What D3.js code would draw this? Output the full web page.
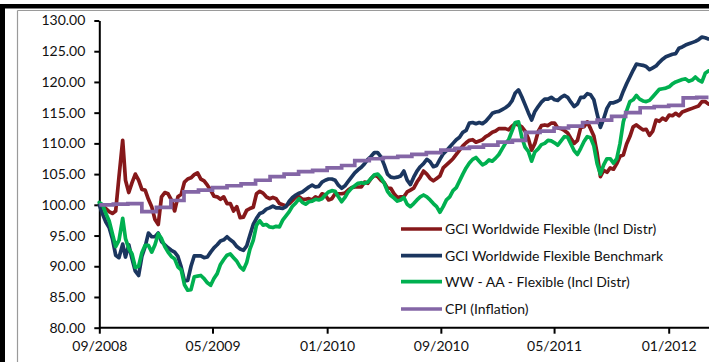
<!DOCTYPE html>
<html><head><meta charset="utf-8">
<script src="https://cdn.jsdelivr.net/npm/d3@7"></script>
<style>
html,body{margin:0;padding:0;background:#fff;}
svg{display:block;font-family:Lato,"Open Sans",sans-serif;}
</style></head>
<body><svg id="c" width="709" height="362"></svg>
<script>
// ---- data (weekly readings) ----
const dates = [
"2008-09-01","2008-09-08","2008-09-15","2008-09-22","2008-09-29","2008-10-06","2008-10-13","2008-10-21","2008-10-27","2008-11-03","2008-11-10","2008-11-17","2008-11-24","2008-12-01","2008-12-08","2008-12-15","2008-12-22","2008-12-29",
"2009-01-05","2009-01-12","2009-01-19","2009-01-26","2009-02-02","2009-02-09","2009-02-16","2009-02-23","2009-03-02","2009-03-09","2009-03-16","2009-03-23","2009-03-30","2009-04-06","2009-04-13","2009-04-20","2009-04-27","2009-05-04","2009-05-11","2009-05-18","2009-05-25","2009-06-01","2009-06-08","2009-06-15","2009-06-22","2009-06-29","2009-07-06","2009-07-13","2009-07-20","2009-07-27","2009-08-03","2009-08-10","2009-08-17","2009-08-24","2009-08-31","2009-09-07","2009-09-14","2009-09-21","2009-09-28","2009-10-05","2009-10-12","2009-10-19","2009-10-26","2009-11-02","2009-11-09","2009-11-16","2009-11-23","2009-11-30","2009-12-07","2009-12-14","2009-12-21","2009-12-28",
"2010-01-04","2010-01-11","2010-01-18","2010-01-25","2010-02-01","2010-02-08","2010-02-15","2010-02-22","2010-03-01","2010-03-08","2010-03-15","2010-03-22","2010-03-29","2010-04-05","2010-04-12","2010-04-19","2010-04-26","2010-05-03","2010-05-10","2010-05-17","2010-05-24","2010-05-31","2010-06-07","2010-06-14","2010-06-21","2010-06-28","2010-07-05","2010-07-12","2010-07-19","2010-07-26","2010-08-02","2010-08-09","2010-08-16","2010-08-23","2010-08-30","2010-09-06","2010-09-13","2010-09-20","2010-09-27","2010-10-04","2010-10-11","2010-10-18","2010-10-25","2010-11-01","2010-11-08","2010-11-15","2010-11-22","2010-11-29","2010-12-06","2010-12-13","2010-12-20","2010-12-27",
"2011-01-03","2011-01-10","2011-01-17","2011-01-24","2011-01-31","2011-02-07","2011-02-14","2011-02-21","2011-02-28","2011-03-07","2011-03-14","2011-03-21","2011-03-28","2011-04-04","2011-04-11","2011-04-18","2011-04-25","2011-05-02","2011-05-09","2011-05-16","2011-05-23","2011-05-30","2011-06-06","2011-06-13","2011-06-20","2011-06-27","2011-07-04","2011-07-11","2011-07-18","2011-07-25","2011-08-01","2011-08-08","2011-08-15","2011-08-22","2011-08-29","2011-09-05","2011-09-12","2011-09-19","2011-09-26","2011-10-03","2011-10-10","2011-10-17","2011-10-24","2011-10-31","2011-11-07","2011-11-14","2011-11-21","2011-11-28","2011-12-05","2011-12-12","2011-12-19","2011-12-26",
"2012-01-02","2012-01-09","2012-01-16","2012-01-23","2012-01-30","2012-02-06","2012-02-13","2012-02-20","2012-02-27","2012-03-05","2012-03-12","2012-03-19","2012-03-26"];

const gciFlexible = [
100.0,99.8,99.4,98.9,98.6,99.0,104.5,110.5,104.0,102.0,103.6,105.0,104.0,102.5,102.4,100.9,99.7,97.6,
96.8,101.3,102.0,101.8,100.8,99.0,101.3,101.7,103.7,104.2,104.4,104.9,105.2,104.2,103.9,103.2,102.4,101.4,101.3,100.9,101.3,100.2,100.2,99.0,99.7,97.9,98.0,99.1,99.4,99.6,101.8,102.2,101.9,101.3,101.0,101.2,101.0,100.2,100.0,99.8,100.2,100.7,101.3,101.3,100.9,100.9,101.0,100.8,101.3,101.0,101.8,101.6,
100.8,101.0,101.8,101.8,101.8,101.9,102.4,102.8,102.9,102.9,102.9,103.7,103.5,104.3,104.8,104.6,104.0,103.6,102.7,102.7,101.8,101.2,101.3,101.3,102.1,102.4,102.7,103.7,104.5,105.5,105.0,104.3,103.9,104.3,104.7,106.0,106.5,107.0,107.5,108.2,108.9,109.6,110.1,110.5,110.6,110.2,110.4,110.6,111.1,111.4,111.8,112.0,
112.4,112.4,112.4,112.2,112.8,113.2,113.0,112.7,112.0,110.8,108.9,110.0,111.9,112.9,113.0,112.9,113.3,113.3,112.5,112.4,112.1,111.7,110.8,110.0,110.5,112.6,112.7,113.5,112.4,111.2,108.4,104.6,105.6,105.3,106.0,105.8,106.7,107.9,108.1,109.9,111.1,112.7,113.0,112.6,112.2,112.3,111.3,112.0,113.8,113.6,114.1,113.8,
114.6,114.5,114.9,114.5,115.1,115.3,115.5,115.7,115.9,116.1,116.8,116.8,116.4];

const gciBenchmark = [
100.0,98.5,97.2,96.3,94.5,91.8,91.4,93.6,91.5,93.5,91.2,89.2,88.5,91.6,93.2,95.4,94.8,94.8,
95.4,94.0,93.5,93.0,92.6,92.3,91.6,89.9,87.6,87.7,90.0,91.7,91.7,91.7,91.4,91.5,92.3,93.0,93.5,94.1,94.3,94.8,94.3,93.9,93.2,92.8,92.6,93.3,95.1,96.8,97.8,98.6,98.8,99.3,99.5,99.8,99.5,99.5,99.4,99.7,100.6,101.2,101.6,101.9,102.1,102.5,102.9,103.2,102.9,103.0,103.7,104.0,
104.2,104.2,104.0,103.2,102.7,103.1,103.8,104.5,105.2,105.7,106.1,106.7,107.4,107.9,108.5,108.5,107.8,106.5,105.0,104.5,104.4,104.5,104.7,105.5,104.0,103.3,104.5,105.5,106.2,106.7,107.4,107.0,106.2,106.4,107.4,108.3,108.8,109.4,110.0,110.6,111.0,111.8,112.1,113.3,113.4,113.2,113.4,113.2,113.6,114.2,114.9,115.1,
115.2,115.5,115.8,116.2,116.9,118.2,118.7,117.6,116.3,115.0,113.8,115.2,116.0,116.7,117.2,117.2,117.5,117.1,117.0,117.5,117.8,117.5,116.7,116.0,116.4,117.5,117.5,118.1,117.9,117.1,114.8,112.6,114.0,115.7,116.6,116.6,116.8,117.1,118.5,119.7,120.8,121.9,122.9,122.8,122.7,122.5,122.0,122.3,122.6,123.2,123.7,124.1,
124.3,124.5,124.6,125.5,125.7,126.0,126.2,126.4,126.6,126.9,127.3,127.2,127.0];

const wwAaFlexible = [
100.4,100.0,98.6,97.4,95.3,93.2,94.2,97.8,94.5,92.9,92.0,89.8,90.0,92.2,93.4,93.4,92.3,93.5,
95.3,94.5,93.2,92.3,91.6,91.2,89.9,89.4,87.0,86.1,86.2,88.3,88.4,88.5,88.0,87.3,86.9,88.0,88.8,90.3,91.1,91.8,92.0,91.4,90.8,89.9,89.4,90.6,92.8,94.2,96.7,97.4,96.7,96.8,96.4,96.3,96.5,96.4,97.5,98.2,98.9,99.8,100.3,101.0,100.4,100.1,100.5,100.6,100.9,100.8,101.0,101.6,
102.1,102.3,102.2,101.3,100.5,101.2,102.1,102.7,103.1,103.5,103.6,103.5,103.7,104.3,104.9,105.0,104.4,103.5,102.2,101.5,101.1,100.6,100.8,101.2,100.1,99.7,100.2,100.8,101.3,101.6,101.3,100.8,100.2,99.7,98.8,99.7,100.8,101.3,102.3,102.8,103.9,105.0,106.0,106.8,107.4,107.7,107.1,106.5,106.8,107.3,107.1,107.6,
108.2,109.1,110.0,110.6,112.0,113.4,113.5,111.0,109.4,108.7,107.1,108.6,109.1,109.8,110.0,110.5,110.4,110.1,109.7,110.4,111.1,111.0,109.9,108.8,108.2,109.2,110.3,111.1,110.9,109.6,106.7,105.0,106.5,107.5,107.5,106.8,107.5,110.0,113.5,115.3,116.8,117.1,117.8,117.2,116.9,116.8,117.0,117.6,118.2,118.8,118.9,119.0,
119.2,119.7,120.0,120.2,120.4,120.5,120.1,120.3,120.8,120.3,120.0,121.4,121.8];

const cpiDates = ["2008-09-01","2008-10-01","2008-11-01","2008-12-01",
"2009-01-01","2009-02-01","2009-03-01","2009-04-01","2009-05-01","2009-06-01","2009-07-01","2009-08-01","2009-09-01","2009-10-01","2009-11-01","2009-12-01",
"2010-01-01","2010-02-01","2010-03-01","2010-04-01","2010-05-01","2010-06-01","2010-07-01","2010-08-01","2010-09-01","2010-10-01","2010-11-01","2010-12-01",
"2011-01-01","2011-02-01","2011-03-01","2011-04-01","2011-05-01","2011-06-01","2011-07-01","2011-08-01","2011-09-01","2011-10-01","2011-11-01","2011-12-01",
"2012-01-01","2012-02-01","2012-03-01","2012-03-26"];
const cpi = [100.0,100.1,100.2,98.9,
99.6,100.7,102.1,102.4,102.8,103.1,103.4,104.0,104.6,105.0,105.4,105.6,
106.0,106.4,107.2,107.5,107.7,107.9,108.2,108.5,108.9,109.2,109.4,109.7,
110.2,110.5,111.8,112.0,112.5,112.8,113.4,113.8,114.4,115.0,115.8,116.0,
116.2,117.4,117.5,117.5];

const yTicks = [80,85,90,95,100,105,110,115,120,125,130];
const xTickLabels = ["2008-09-01","2009-05-01","2010-01-01","2010-09-01","2011-05-01","2012-01-01"];

const seriesNames = ["GCI Worldwide Flexible (Incl Distr)","GCI Worldwide Flexible Benchmark","WW - AA - Flexible (Incl Distr)","CPI (Inflation)"];
const seriesColors = ["#86181a","#1b365f","#00b050","#8466a6"];

// ---- chart ----
const parse = d3.utcParse("%Y-%m-%d");
const svg = d3.select("#c");

// frame
svg.append("rect").attr("x",0).attr("y",4).attr("width",5).attr("height",358).attr("fill","#000");
svg.append("rect").attr("x",0).attr("y",4).attr("width",709).attr("height",4.5).attr("fill","#000");
svg.append("line").attr("x1",17.5).attr("x2",17.5).attr("y1",10.5).attr("y2",362).attr("stroke","#9a9a9a").attr("stroke-width",1.2);
svg.append("line").attr("x1",17.5).attr("x2",709).attr("y1",10.5).attr("y2",10.5).attr("stroke","#9a9a9a").attr("stroke-width",1.2);

const x = d3.scaleUtc().domain([parse("2008-09-01"), parse("2012-01-01")]).range([99.3, 668.7]);
const y = d3.scaleLinear().domain([80,130]).range([327.7, 20.5]);

const gx = svg.append("g").attr("transform","translate(0,327.7)")
  .call(d3.axisBottom(x).tickValues(xTickLabels.map(parse)).tickFormat(d3.utcFormat("%m/%Y")).tickSize(6).tickSizeOuter(0).tickPadding(7));
gx.select(".domain").attr("d","M99.3,0H709");
const gy = svg.append("g").attr("transform","translate(99.3,0)")
  .call(d3.axisLeft(y).tickValues(yTicks).tickFormat(d3.format(".2f")).tickSize(5).tickSizeOuter(0).tickPadding(9));
[gx,gy].forEach(g=>{
  g.select(".domain").attr("stroke","#000").attr("stroke-width",2);
  g.selectAll(".tick line").attr("stroke","#000").attr("stroke-width",2);
  g.selectAll(".tick text").attr("fill","#111").style("font-size","14px").style("font-family","Lato");
});

const line = d3.line().x(d=>x(d[0])).y(d=>y(d[1])).curve(d3.curveLinear);
const stepLine = d3.line().x(d=>x(d[0])).y(d=>y(d[1])).curve(d3.curveStepAfter);
const dd = dates.map(parse);
[gciFlexible, gciBenchmark, wwAaFlexible].forEach((vals,i)=>{
  svg.append("path").datum(dd.map((d,j)=>[d,vals[j]]))
    .attr("d",line).attr("fill","none").attr("stroke",seriesColors[i])
    .attr("stroke-width",3.7).attr("stroke-linejoin","round").attr("stroke-linecap","round");
});
svg.append("path").datum(cpiDates.map((d,j)=>[parse(d),cpi[j]]))
  .attr("d",stepLine).attr("fill","none").attr("stroke",seriesColors[3])
  .attr("stroke-width",3.7).attr("stroke-linejoin","miter");

// legend
const leg = svg.append("g");
const legY = [229, 255.7, 281.7, 309];
seriesNames.forEach((n,i)=>{
  leg.append("line").attr("x1",401).attr("x2",442).attr("y1",legY[i]).attr("y2",legY[i])
    .attr("stroke",seriesColors[i]).attr("stroke-width",3.7);
  leg.append("text").attr("x",445).attr("y",legY[i]).attr("dy","0.35em")
    .style("font-size","14px").style("font-family","Lato").attr("fill","#111").text(n);
});
</script></body></html>
